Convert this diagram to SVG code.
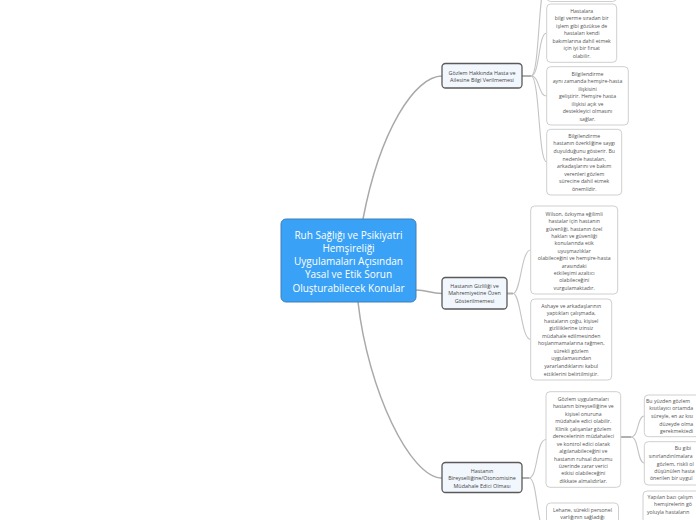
<svg xmlns="http://www.w3.org/2000/svg" width="696" height="520" viewBox="0 0 696 520">
<style>
  .main { fill: #3aa2f6; stroke: #3f7fb8; stroke-width: 1; }
  .mt { font-family: "Open Sans", "Liberation Sans", sans-serif; font-size: 10px; fill: #ffffff; text-anchor: middle; }
  .l1 { fill: #f2f7fd; stroke: #5a5a5a; stroke-width: 1.3; }
  .l1t { font-family: "Open Sans", "Liberation Sans", sans-serif; font-size: 5.4px; fill: #444444; text-anchor: middle; }
  .l2 { fill: #ffffff; stroke: #cfcfcf; stroke-width: 1; }
  .l2t { font-family: "Open Sans", "Liberation Sans", sans-serif; font-size: 5.2px; fill: #555555; text-anchor: middle; }
  .l3t { font-family: "Open Sans", "Liberation Sans", sans-serif; font-size: 5.2px; fill: #555555; text-anchor: start; }
  .c1 { fill: none; stroke: #a9a9a9; stroke-width: 1.5; }
  .c2 { fill: none; stroke: #c4c4c4; stroke-width: 1.1; }
  .stub { fill: none; stroke: #b0b0b0; stroke-width: 2; }
</style>
<rect width="696" height="520" fill="#ffffff"/>
<g id="connectors">
  <path class="c1" d="M363,219 C380,130 415,76 442,76"/>
  <path class="c1" d="M416,290 C428,290 430,293.5 442,293.5"/>
  <path class="c1" d="M358,302 C368,390 410,478 442,478"/>
  <path class="stub" d="M522,76 L531,76"/>
  <path class="c2" d="M531,76 C540,76 538,-20 546.7,-20"/>
  <path class="c2" d="M531,76 C540,76 538,33 546.7,33"/>
  <path class="c2" d="M531,76 C540,76 538,96 546.7,96"/>
  <path class="c2" d="M531,76 C540,76 538,162 546.7,162"/>
  <path class="stub" d="M507,293.5 L513,293.5"/>
  <path class="c2" d="M513,293.5 C521,293.5 521,250 530.7,250"/>
  <path class="c2" d="M513,293.5 C521,293.5 521,339.5 530.7,339.5"/>
  <path class="stub" d="M522,478 L529,478"/>
  <path class="c2" d="M529,478 C538,478 536,439.5 546,439.5"/>
  <path class="c2" d="M529,478 C538,478 536,530 546,530"/>
  <path class="stub" d="M620.7,437 L631,437"/>
  <path class="c2" d="M631,437 C639,437 637,416 644.3,416"/>
  <path class="c2" d="M631,437 C639,437 637,463 644.3,463"/>
</g>
<g id="root">
  <rect class="main" x="281" y="219" width="135" height="83" rx="5"/>
  <text class="mt" x="348.5" y="238.5">Ruh Sağlığı ve Psikiyatri</text>
  <text class="mt" x="348.5" y="251.5">Hemşireliği</text>
  <text class="mt" x="348.5" y="265">Uygulamaları Açısından</text>
  <text class="mt" x="348.5" y="278">Yasal ve Etik Sorun</text>
  <text class="mt" x="348.5" y="291.5">Oluşturabilecek Konular</text>
</g>
<g id="n1">
  <rect class="l1" x="442" y="63.5" width="80" height="24.5" rx="3.5"/>
  <text class="l1t" x="482" y="74.6">Gözlem Hakkında Hasta ve</text>
  <text class="l1t" x="482" y="81.9">Ailesine Bilgi Verilmemesi</text>
</g>
<g id="n2">
  <rect class="l1" x="442" y="277.5" width="65" height="31.5" rx="3.5"/>
  <text class="l1t" x="474.5" y="288">Hastanın Gizliliği ve</text>
  <text class="l1t" x="474.5" y="295.3">Mahremiyetine Özen</text>
  <text class="l1t" x="474.5" y="302.7">Gösterilmemesi</text>
</g>
<g id="n3">
  <rect class="l1" x="442" y="462.5" width="80" height="30" rx="3.5"/>
  <text class="l1t" x="482" y="473">Hastanın</text>
  <text class="l1t" x="482" y="480.3">Bireyselliğine/Otonomisine</text>
  <text class="l1t" x="482" y="487.6">Müdahale Edici Olması</text>
</g>
<g id="n1a">
  <rect class="l2" x="546.7" y="-40" width="70" height="41.5" rx="4"/>
</g>
<g id="n1b">
  <rect class="l2" x="546.7" y="4" width="70" height="58.3" rx="4"/>
  <text class="l2t" x="581.7" y="12.8">Hastalara</text>
  <text class="l2t" x="581.7" y="20.3">bilgi verme sıradan bir</text>
  <text class="l2t" x="581.7" y="27.8">işlem gibi gözükse de</text>
  <text class="l2t" x="581.7" y="35.3">hastaları kendi</text>
  <text class="l2t" x="581.7" y="42.8">bakımlarına dahil etmek</text>
  <text class="l2t" x="581.7" y="50.3">için iyi bir fırsat</text>
  <text class="l2t" x="581.7" y="57.8">olabilir.</text>
</g>
<g id="n1c">
  <rect class="l2" x="546.7" y="66.7" width="81.6" height="58.3" rx="4"/>
  <text class="l2t" x="587.5" y="75.5">Bilgilendirme</text>
  <text class="l2t" x="587.5" y="83">aynı zamanda hemşire-hasta</text>
  <text class="l2t" x="587.5" y="90.5">ilişkisini</text>
  <text class="l2t" x="587.5" y="98">geliştirir. Hemşire hasta</text>
  <text class="l2t" x="587.5" y="105.5">ilişkisi açık ve</text>
  <text class="l2t" x="587.5" y="113">destekleyici olmasını</text>
  <text class="l2t" x="587.5" y="120.5">sağlar.</text>
</g>
<g id="n1d">
  <rect class="l2" x="546.7" y="129.3" width="75" height="65.7" rx="4"/>
  <text class="l2t" x="584.2" y="137.8">Bilgilendirme</text>
  <text class="l2t" x="584.2" y="145.4">hastanın özerkliğine saygı</text>
  <text class="l2t" x="584.2" y="152.9">duyulduğunu gösterir. Bu</text>
  <text class="l2t" x="584.2" y="160.5">nedenle hastaları,</text>
  <text class="l2t" x="584.2" y="168">arkadaşlarını ve bakım</text>
  <text class="l2t" x="584.2" y="175.6">verenleri gözlem</text>
  <text class="l2t" x="584.2" y="183.1">sürecine dahil etmek</text>
  <text class="l2t" x="584.2" y="190.7">önemlidir.</text>
</g>
<g id="n2a">
  <rect class="l2" x="530.7" y="206" width="87" height="88" rx="4"/>
  <text class="l2t" x="574.2" y="215.8">Wilson, özkıyma eğilimli</text>
  <text class="l2t" x="574.2" y="223.2">hastalar için hastanın</text>
  <text class="l2t" x="574.2" y="230.6">güvenliği, hastanın özel</text>
  <text class="l2t" x="574.2" y="238">hakları ve güvenliği</text>
  <text class="l2t" x="574.2" y="245.4">konularında etik</text>
  <text class="l2t" x="574.2" y="252.8">uyuşmazlıklar</text>
  <text class="l2t" x="574.2" y="260.2">olabileceğini ve hemşire-hasta</text>
  <text class="l2t" x="574.2" y="267.6">arasındaki</text>
  <text class="l2t" x="574.2" y="275">etkileşimi azaltıcı</text>
  <text class="l2t" x="574.2" y="282.4">olabileceğini</text>
  <text class="l2t" x="574.2" y="289.8">vurgulamaktadır.</text>
</g>
<g id="n2b">
  <rect class="l2" x="530.7" y="299" width="81" height="81" rx="4"/>
  <text class="l2t" x="571.2" y="307.8">Ashaye ve arkadaşlarının</text>
  <text class="l2t" x="571.2" y="315.3">yaptıkları çalışmada,</text>
  <text class="l2t" x="571.2" y="322.8">hastaların çoğu, kişisel</text>
  <text class="l2t" x="571.2" y="330.4">gizliliklerine izinsiz</text>
  <text class="l2t" x="571.2" y="337.9">müdahale edilmesinden</text>
  <text class="l2t" x="571.2" y="345.4">hoşlanmamalarına rağmen,</text>
  <text class="l2t" x="571.2" y="352.9">sürekli gözlem</text>
  <text class="l2t" x="571.2" y="360.4">uygulamasından</text>
  <text class="l2t" x="571.2" y="368">yararlandıklarını kabul</text>
  <text class="l2t" x="571.2" y="375.5">ettiklerini belirtilmiştir.</text>
</g>
<g id="n3a">
  <rect class="l2" x="546" y="391.7" width="74.7" height="95.6" rx="4"/>
  <text class="l2t" x="583.3" y="400.8">Gözlem uygulamaları</text>
  <text class="l2t" x="583.3" y="408.3">hastanın bireyselliğine ve</text>
  <text class="l2t" x="583.3" y="415.7">kişisel onuruna</text>
  <text class="l2t" x="583.3" y="423.2">müdahale edici olabilir.</text>
  <text class="l2t" x="583.3" y="430.6">Klinik çalışanlar gözlem</text>
  <text class="l2t" x="583.3" y="438.1">derecelerinin müdahaleci</text>
  <text class="l2t" x="583.3" y="445.6">ve kontrol edici olarak</text>
  <text class="l2t" x="583.3" y="453">algılanabileceğini ve</text>
  <text class="l2t" x="583.3" y="460.5">hastanın ruhsal durumu</text>
  <text class="l2t" x="583.3" y="467.9">üzerinde zarar verici</text>
  <text class="l2t" x="583.3" y="475.4">etkisi olabileceğini</text>
  <text class="l2t" x="583.3" y="482.8">dikkate almalıdırlar.</text>
</g>
<g id="n3b">
  <rect class="l2" x="546.5" y="503" width="72" height="40" rx="4"/>
  <text class="l2t" x="582.5" y="511.8">Lehane, sürekli personel</text>
  <text class="l2t" x="582.5" y="519.4">varlığının sağladığı</text>
</g>
<g id="n3a1">
  <rect class="l2" x="644.3" y="395" width="80" height="41.7" rx="4"/>
  <text class="l3t" x="646" y="402.5">Bu yüzden gözlem</text>
  <text class="l3t" x="649.3" y="410.1">kısıtlayıcı ortamda</text>
  <text class="l3t" x="651" y="417.8">süreyle, en az kısı</text>
  <text class="l3t" x="659.3" y="425.5">düzeyde olma</text>
  <text class="l3t" x="660" y="432.8">gerekmektedi</text>
</g>
<g id="n3a2">
  <rect class="l2" x="644.3" y="441.7" width="80" height="43.3" rx="4"/>
  <text class="l3t" x="674.7" y="450.1">Bu gibi</text>
  <text class="l3t" x="648.7" y="457.5">sınırlandırılmalara</text>
  <text class="l3t" x="656.7" y="465.5">gözlem, riskli ol</text>
  <text class="l3t" x="654.3" y="472.8">düşünülen hasta</text>
  <text class="l3t" x="650" y="480.1">önerilen bir uygul</text>
</g>
<g id="n3b1">
  <rect class="l2" x="643" y="491" width="80" height="60" rx="4"/>
  <text class="l3t" x="647.5" y="498.8">Yapılan bazı çalışm</text>
  <text class="l3t" x="654" y="506.3">hemşirelerin gö</text>
  <text class="l3t" x="647" y="513.8">yoluyla hastaların</text>
</g>
</svg>
